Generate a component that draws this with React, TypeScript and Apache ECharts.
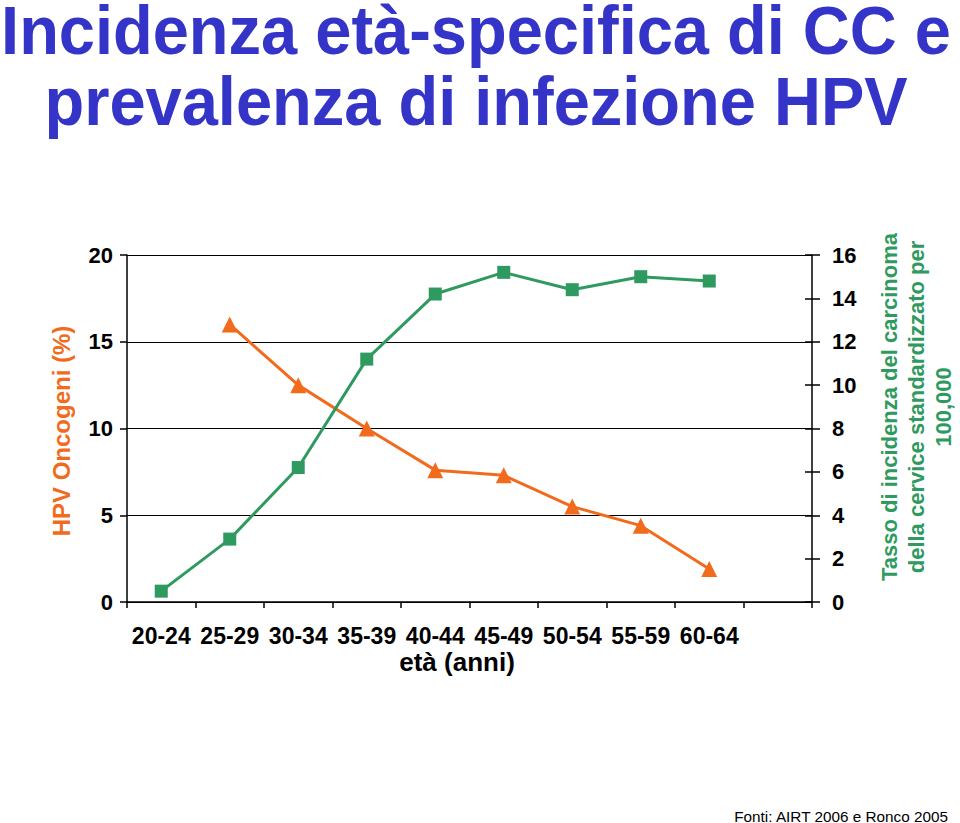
import React, { useEffect, useRef } from "react";
import * as echarts from "echarts";

const categories = ["20-24", "25-29", "30-34", "35-39", "40-44", "45-49", "50-54", "55-59", "60-64", ""];
const hpvPrevalence = [null, 16.0, 12.5, 10.0, 7.6, 7.3, 5.5, 4.4, 1.9, null];
const ccIncidence = [0.5, 2.9, 6.2, 11.2, 14.2, 15.2, 14.4, 15.0, 14.8, null];
const titleLines = ["Incidenza età-specifica di CC e", "prevalenza di infezione HPV"];
const leftName = "HPV Oncogeni (%)";
const rightName = "Tasso di incidenza del carcinoma\ndella cervice standardizzato per\n100,000";
const xName = "età (anni)";
const source = "Fonti: AIRT 2006 e Ronco 2005";

const ORANGE = "#f26b1d";
const GREEN = "#2f9a60";
const BLUE = "#3434c8";
const FONT = "'Liberation Sans', Arial, sans-serif";

export default function App() {
  const ref = useRef<HTMLDivElement>(null);
  useEffect(() => {
    const chart = echarts.init(ref.current!, null, { renderer: "svg" });
    chart.setOption({
      animation: false,
      backgroundColor: "#ffffff",
      grid: { left: 127, right: 148, top: 255, bottom: 221, containLabel: false },
      xAxis: {
        type: "category",
        data: categories,
        boundaryGap: true,
        axisLine: { lineStyle: { color: "#000", width: 1.5 } },
        axisTick: { show: true, length: 6, lineStyle: { color: "#000", width: 1.5 } },
        axisLabel: { fontFamily: FONT, fontWeight: "bold", fontSize: 23, color: "#000", margin: 22, interval: 0 },
      },
      yAxis: [
        {
          type: "value",
          min: 0,
          max: 20,
          interval: 5,
          position: "left",
          axisLine: { show: true, lineStyle: { color: "#000", width: 1.5 } },
          axisTick: { show: true, length: 7, lineStyle: { color: "#000", width: 1.5 } },
          axisLabel: { fontFamily: FONT, fontWeight: "bold", fontSize: 22, color: "#000", margin: 14 },
          splitLine: { show: true, lineStyle: { color: "#000", width: 1.2 } },
        },
        {
          type: "value",
          min: 0,
          max: 16,
          interval: 2,
          position: "right",
          axisLine: { show: true, lineStyle: { color: "#000", width: 1.5 } },
          axisTick: { show: true, length: 8, lineStyle: { color: "#000", width: 1.5 } },
          axisLabel: { fontFamily: FONT, fontWeight: "bold", fontSize: 22, color: "#000", margin: 20 },
          splitLine: { show: false },
        },
        {
          type: "value",
          min: 0,
          max: 16,
          interval: 2,
          position: "right",
          axisLine: { show: false },
          axisTick: { show: true, inside: true, length: 7, lineStyle: { color: "#000", width: 1.5 } },
          axisLabel: { show: false },
          splitLine: { show: false },
        },
      ],
      series: [
        {
          type: "line",
          yAxisIndex: 0,
          data: hpvPrevalence,
          symbol: "triangle",
          symbolSize: 16,
          lineStyle: { color: ORANGE, width: 3 },
          itemStyle: { color: ORANGE },
          connectNulls: false,
        },
        {
          type: "line",
          yAxisIndex: 1,
          data: ccIncidence,
          symbol: "rect",
          symbolSize: 13,
          lineStyle: { color: GREEN, width: 3 },
          itemStyle: { color: GREEN },
        },
      ],
      graphic: [
        {
          type: "text",
          x: 476,
          y: 30,
          scaleY: 1.046,
          style: { text: titleLines[0], fontFamily: FONT, fontWeight: "bold", fontSize: 65, lineHeight: 56, fill: BLUE, align: "center", verticalAlign: "middle" },
        },
        {
          type: "text",
          x: 476,
          y: 101,
          scaleY: 1.046,
          style: { text: titleLines[1], fontFamily: FONT, fontWeight: "bold", fontSize: 65, lineHeight: 56, fill: BLUE, align: "center", verticalAlign: "middle" },
        },
        {
          type: "text",
          x: 457,
          y: 662,
          style: { text: xName, fontFamily: FONT, fontWeight: "bold", fontSize: 26, fill: "#000", align: "center", verticalAlign: "middle" },
        },
        {
          type: "text",
          x: 61,
          y: 431,
          rotation: Math.PI / 2,
          style: { text: leftName, fontFamily: FONT, fontWeight: "bold", fontSize: 24, fill: ORANGE, align: "center", verticalAlign: "middle" },
        },
        {
          type: "text",
          x: 916,
          y: 407,
          rotation: Math.PI / 2,
          style: { text: rightName, fontFamily: FONT, fontWeight: "bold", fontSize: 22, lineHeight: 27, fill: GREEN, align: "center", verticalAlign: "middle" },
        },
        {
          type: "text",
          x: 948,
          y: 816,
          style: { text: source, fontFamily: FONT, fontSize: 15.3, fill: "#000", align: "right", verticalAlign: "middle" },
        },
      ],
    });
    return () => chart.dispose();
  }, []);
  return <div ref={ref} style={{ position: "fixed", left: 0, top: 0, width: 960, height: 823 }} />;
}
